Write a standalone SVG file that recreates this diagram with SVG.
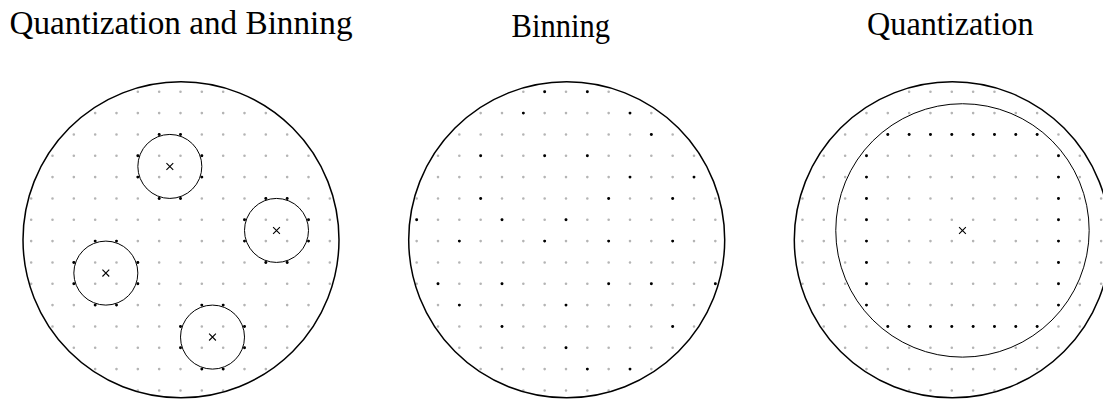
<svg xmlns="http://www.w3.org/2000/svg" xmlns:xlink="http://www.w3.org/1999/xlink" width="1103" height="399" viewBox="0 0 1103 399">
<style>
.title{font-family:"Liberation Serif","Times New Roman",serif;font-size:33px;fill:#000}
.g line{stroke:#b4b4b4;stroke-width:2.6;stroke-linecap:round;stroke-dasharray:0 21.3333}
.big{fill:none;stroke:#000;stroke-width:1.5}
.small{fill:none;stroke:#000;stroke-width:1}
.bd{fill:#000}
.x{stroke:#000;stroke-width:1.1;fill:none}
</style>
<defs>
<g id="grid" class="g">
<line x1="-42.667" y1="-149.333" x2="42.677" y2="-149.333"/>
<line x1="-85.333" y1="-128" x2="85.343" y2="-128"/>
<line x1="-106.667" y1="-106.667" x2="106.677" y2="-106.667"/>
<line x1="-128" y1="-85.333" x2="128.01" y2="-85.333"/>
<line x1="-128" y1="-64" x2="128.01" y2="-64"/>
<line x1="-149.333" y1="-42.667" x2="149.343" y2="-42.667"/>
<line x1="-149.333" y1="-21.333" x2="149.343" y2="-21.333"/>
<line x1="-149.333" y1="0" x2="149.343" y2="0"/>
<line x1="-149.333" y1="21.333" x2="149.343" y2="21.333"/>
<line x1="-149.333" y1="42.667" x2="149.343" y2="42.667"/>
<line x1="-128" y1="64" x2="128.01" y2="64"/>
<line x1="-128" y1="85.333" x2="128.01" y2="85.333"/>
<line x1="-106.667" y1="106.667" x2="106.677" y2="106.667"/>
<line x1="-85.333" y1="128" x2="85.343" y2="128"/>
<line x1="-42.667" y1="149.333" x2="42.677" y2="149.333"/>
</g>
<path id="cross" class="x" d="M-3.4,-3.4L3.4,3.4M-3.4,3.4L3.4,-3.4"/>
<circle id="bd" class="bd" r="1.45"/>
</defs>

<g id="titles">
<text class="title" x="9.5" y="33.5" textLength="343" lengthAdjust="spacingAndGlyphs">Quantization and Binning</text>
<text class="title" x="511.5" y="36.7" textLength="98.5" lengthAdjust="spacingAndGlyphs">Binning</text>
<text class="title" x="867" y="35" textLength="166.5" lengthAdjust="spacingAndGlyphs">Quantization</text>
</g>

<g id="panel-quantization-binning" transform="translate(180.5,241.1)">
<use xlink:href="#grid"/>
<circle class="big" cx="0.5" cy="-1.3" r="158"/>
<g id="bin-a">
<circle class="small" cx="-10.667" cy="-74.667" r="32"/>
<use xlink:href="#cross" x="-10.667" y="-74.667"/>
<use xlink:href="#bd" x="-21.333" y="-106.667"/><use xlink:href="#bd" x="0" y="-106.667"/>
<use xlink:href="#bd" x="-42.667" y="-85.333"/><use xlink:href="#bd" x="21.333" y="-85.333"/>
<use xlink:href="#bd" x="-42.667" y="-64"/><use xlink:href="#bd" x="21.333" y="-64"/>
<use xlink:href="#bd" x="-21.333" y="-42.667"/><use xlink:href="#bd" x="0" y="-42.667"/>
</g>
<g id="bin-b">
<circle class="small" cx="96" cy="-10.667" r="32"/>
<use xlink:href="#cross" x="96" y="-10.667"/>
<use xlink:href="#bd" x="85.333" y="-42.667"/><use xlink:href="#bd" x="106.667" y="-42.667"/>
<use xlink:href="#bd" x="64" y="-21.333"/><use xlink:href="#bd" x="128" y="-21.333"/>
<use xlink:href="#bd" x="64" y="0"/><use xlink:href="#bd" x="128" y="0"/>
<use xlink:href="#bd" x="85.333" y="21.333"/><use xlink:href="#bd" x="106.667" y="21.333"/>
</g>
<g id="bin-c">
<circle class="small" cx="-74.667" cy="32" r="32"/>
<use xlink:href="#cross" x="-74.667" y="32"/>
<use xlink:href="#bd" x="-85.333" y="0"/><use xlink:href="#bd" x="-64" y="0"/>
<use xlink:href="#bd" x="-106.667" y="21.333"/><use xlink:href="#bd" x="-42.667" y="21.333"/>
<use xlink:href="#bd" x="-106.667" y="42.667"/><use xlink:href="#bd" x="-42.667" y="42.667"/>
<use xlink:href="#bd" x="-85.333" y="64"/><use xlink:href="#bd" x="-64" y="64"/>
</g>
<g id="bin-d">
<circle class="small" cx="32" cy="96" r="32"/>
<use xlink:href="#cross" x="32" y="96"/>
<use xlink:href="#bd" x="21.333" y="64"/><use xlink:href="#bd" x="42.667" y="64"/>
<use xlink:href="#bd" x="0" y="85.333"/><use xlink:href="#bd" x="64" y="85.333"/>
<use xlink:href="#bd" x="0" y="106.667"/><use xlink:href="#bd" x="64" y="106.667"/>
<use xlink:href="#bd" x="21.333" y="128"/><use xlink:href="#bd" x="42.667" y="128"/>
</g>
</g>

<g id="panel-binning" transform="translate(566,241.1)">
<use xlink:href="#grid"/>
<circle class="big" cx="0.7" cy="-1.3" r="158"/>
<g id="binning-dots">
<use xlink:href="#bd" x="-21.333" y="-149.333"/><use xlink:href="#bd" x="21.333" y="-149.333"/>
<use xlink:href="#bd" x="-42.667" y="-128"/><use xlink:href="#bd" x="64" y="-128"/>
<use xlink:href="#bd" x="85.333" y="-106.667"/>
<use xlink:href="#bd" x="-85.333" y="-85.333"/><use xlink:href="#bd" x="-21.333" y="-85.333"/><use xlink:href="#bd" x="21.333" y="-85.333"/>
<use xlink:href="#bd" x="64" y="-64"/><use xlink:href="#bd" x="128" y="-64"/>
<use xlink:href="#bd" x="-85.333" y="-42.667"/><use xlink:href="#bd" x="42.667" y="-42.667"/><use xlink:href="#bd" x="106.667" y="-42.667"/>
<use xlink:href="#bd" x="-149.333" y="-21.333"/><use xlink:href="#bd" x="-64" y="-21.333"/><use xlink:href="#bd" x="0" y="-21.333"/>
<use xlink:href="#bd" x="-106.667" y="0"/><use xlink:href="#bd" x="-21.333" y="0"/><use xlink:href="#bd" x="42.667" y="0"/><use xlink:href="#bd" x="106.667" y="0"/>
<use xlink:href="#bd" x="-128" y="42.667"/><use xlink:href="#bd" x="-64" y="42.667"/><use xlink:href="#bd" x="42.667" y="42.667"/><use xlink:href="#bd" x="85.333" y="42.667"/><use xlink:href="#bd" x="149.333" y="42.667"/>
<use xlink:href="#bd" x="-106.667" y="64"/><use xlink:href="#bd" x="0" y="64"/>
<use xlink:href="#bd" x="-64" y="85.333"/><use xlink:href="#bd" x="106.667" y="85.333"/>
<use xlink:href="#bd" x="0" y="106.667"/>
<use xlink:href="#bd" x="21.333" y="128"/><use xlink:href="#bd" x="64" y="128"/>
</g>
</g>

<g id="panel-quantization" transform="translate(951.8,241.1)">
<use xlink:href="#grid"/>
<circle class="big" cx="0.5" cy="-1.3" r="158"/>
<g id="quant-cell">
<circle class="small" cx="10.667" cy="-10.667" r="126.7"/>
<use xlink:href="#cross" x="10.667" y="-10.667"/>
<use xlink:href="#bd" x="-64" y="-106.667"/><use xlink:href="#bd" x="-42.667" y="-106.667"/><use xlink:href="#bd" x="-21.333" y="-106.667"/><use xlink:href="#bd" x="0" y="-106.667"/><use xlink:href="#bd" x="21.333" y="-106.667"/><use xlink:href="#bd" x="42.667" y="-106.667"/><use xlink:href="#bd" x="64" y="-106.667"/><use xlink:href="#bd" x="85.333" y="-106.667"/>
<use xlink:href="#bd" x="-64" y="85.333"/><use xlink:href="#bd" x="-42.667" y="85.333"/><use xlink:href="#bd" x="-21.333" y="85.333"/><use xlink:href="#bd" x="0" y="85.333"/><use xlink:href="#bd" x="21.333" y="85.333"/><use xlink:href="#bd" x="42.667" y="85.333"/><use xlink:href="#bd" x="64" y="85.333"/><use xlink:href="#bd" x="85.333" y="85.333"/>
<use xlink:href="#bd" x="-85.333" y="-85.333"/><use xlink:href="#bd" x="-85.333" y="-64"/><use xlink:href="#bd" x="-85.333" y="-42.667"/><use xlink:href="#bd" x="-85.333" y="-21.333"/><use xlink:href="#bd" x="-85.333" y="0"/><use xlink:href="#bd" x="-85.333" y="21.333"/><use xlink:href="#bd" x="-85.333" y="42.667"/><use xlink:href="#bd" x="-85.333" y="64"/>
<use xlink:href="#bd" x="106.667" y="-85.333"/><use xlink:href="#bd" x="106.667" y="-64"/><use xlink:href="#bd" x="106.667" y="-42.667"/><use xlink:href="#bd" x="106.667" y="-21.333"/><use xlink:href="#bd" x="106.667" y="0"/><use xlink:href="#bd" x="106.667" y="21.333"/><use xlink:href="#bd" x="106.667" y="42.667"/><use xlink:href="#bd" x="106.667" y="64"/>
</g>
</g>
</svg>
